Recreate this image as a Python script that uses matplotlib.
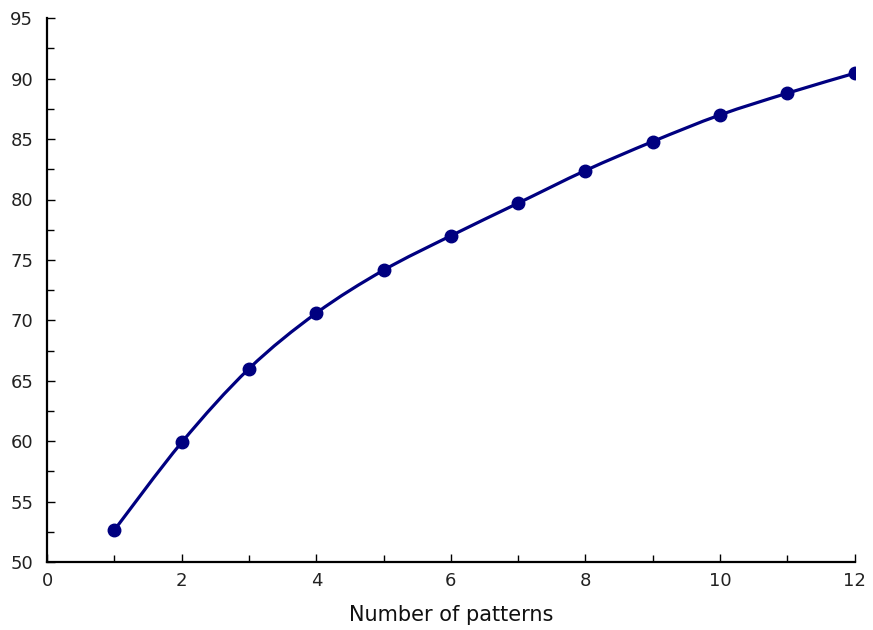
import matplotlib
matplotlib.use("Agg")
import matplotlib.pyplot as plt
from matplotlib.ticker import MultipleLocator
from matplotlib.path import Path
from matplotlib.patches import PathPatch

patterns = [1, 2, 3, 4, 5, 6, 7, 8, 9, 10, 11, 12]
values = [52.65, 59.9, 66.0, 70.6, 74.15, 77.0, 79.7, 82.4, 84.8, 87.0, 88.8, 90.45]

fig = plt.figure(figsize=(8.73, 6.3), dpi=100)
ax = fig.add_axes([0.054, 0.108, 0.925, 0.863])

# smooth connecting curve (Catmull-Rom as cubic Bezier through the data points)
verts = [(patterns[0], values[0])]
codes = [Path.MOVETO]
n = len(patterns)
for i in range(n - 1):
    x0, y0 = (patterns[i - 1], values[i - 1]) if i > 0 else (patterns[i], values[i])
    x1, y1 = patterns[i], values[i]
    x2, y2 = patterns[i + 1], values[i + 1]
    x3, y3 = (patterns[i + 2], values[i + 2]) if i + 2 < n else (x2, y2)
    c1 = (x1 + (x2 - x0) / 6.0, y1 + (y2 - y0) / 6.0)
    c2 = (x2 - (x3 - x1) / 6.0, y2 - (y3 - y1) / 6.0)
    verts += [c1, c2, (x2, y2)]
    codes += [Path.CURVE4] * 3
ax.add_patch(PathPatch(Path(verts, codes), facecolor="none", edgecolor="#000080", lw=2.3))
ax.plot(patterns, values, linestyle="none", marker="o", ms=9,
        markeredgecolor="#000080", markerfacecolor="#000080")

ax.set_xlim(0, 12)
ax.set_ylim(50, 95)
ax.xaxis.set_major_locator(MultipleLocator(2))
ax.xaxis.set_minor_locator(MultipleLocator(1))
ax.yaxis.set_major_locator(MultipleLocator(5))
ax.yaxis.set_minor_locator(MultipleLocator(2.5))
for s in ["top", "right"]:
    ax.spines[s].set_visible(False)
for s in ["left", "bottom"]:
    ax.spines[s].set_linewidth(1.6)
ax.tick_params(which="both", direction="in", width=1.0, labelsize=13, colors="black",
               labelcolor="#222222")
ax.tick_params(which="major", length=6)
ax.tick_params(which="minor", length=5)
ax.tick_params(axis="x", pad=7)
ax.tick_params(axis="y", pad=10)
ax.set_xlabel("Number of patterns", fontsize=15, labelpad=11, color="#111111")
fig.savefig("out.png", dpi=100)
